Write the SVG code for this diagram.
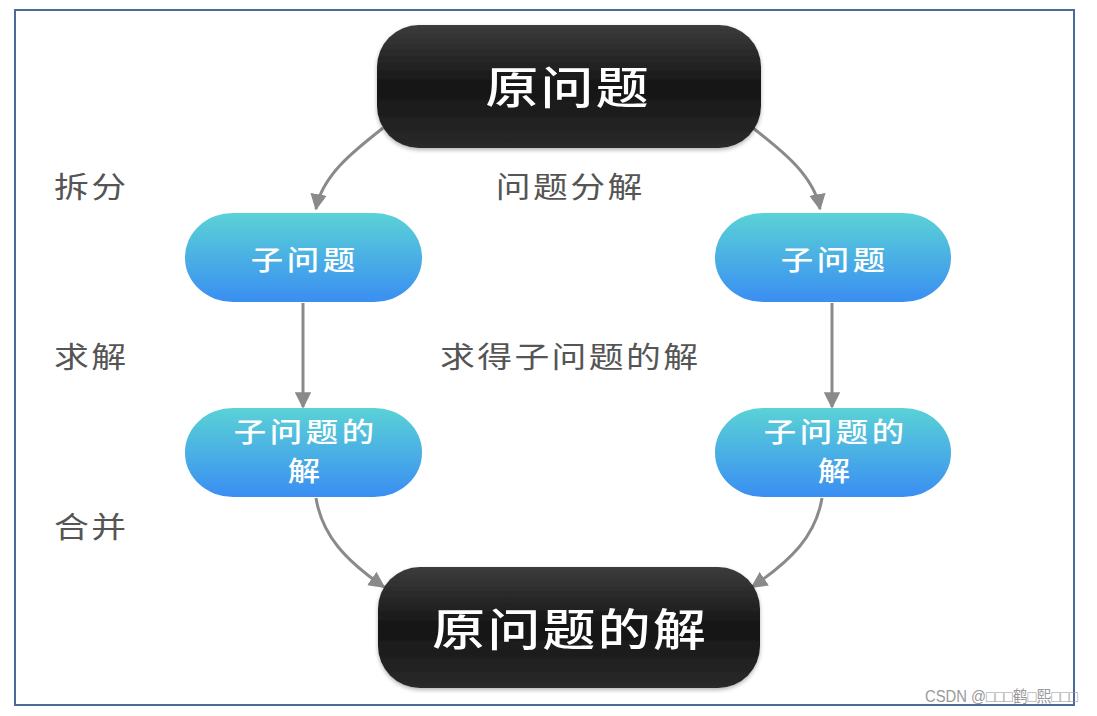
<svg xmlns="http://www.w3.org/2000/svg" width="1097" height="716" viewBox="0 0 1097 716">
<defs>
<linearGradient id="gBlack" x1="0" y1="0" x2="0" y2="1">
<stop offset="0" stop-color="#3c3c3c"/>
<stop offset="0.5" stop-color="#151515"/>
<stop offset="1" stop-color="#2a2a2a"/>
</linearGradient>
<linearGradient id="gBlue" x1="0" y1="0" x2="0" y2="1">
<stop offset="0" stop-color="#5ad2d6"/>
<stop offset="1" stop-color="#3a8ef2"/>
</linearGradient>
<marker id="arr" viewBox="0 0 10 10" refX="9" refY="5" markerWidth="5.5" markerHeight="5.5" orient="auto" markerUnits="strokeWidth">
<path d="M0,0 L10,5 L0,10 z" fill="#8a8a8a"/>
</marker>
<filter id="sh" x="-10%" y="-10%" width="120%" height="130%">
<feGaussianBlur in="SourceAlpha" stdDeviation="2"/>
<feOffset dy="2" result="b"/>
<feComponentTransfer><feFuncA type="linear" slope="0.3"/></feComponentTransfer>
<feMerge><feMergeNode/><feMergeNode in="SourceGraphic"/></feMerge>
</filter>
</defs>
<style>
.lbl{font-family:"Noto Sans CJK SC","Noto Sans",sans-serif;font-size:29px;fill:#555;letter-spacing:2px}
.big{font-family:"Noto Sans CJK SC","Noto Sans",sans-serif;font-size:44px;fill:#fff;font-weight:500;letter-spacing:2px;text-anchor:middle}
.sub{font-family:"Noto Sans CJK SC","Noto Sans",sans-serif;font-size:27px;fill:#fff;font-weight:500;letter-spacing:3px;text-anchor:middle}
.conn{fill:none;stroke:#8a8a8a;stroke-width:3;marker-end:url(#arr)}
.wm{font-family:"Liberation Sans","Noto Sans CJK SC",sans-serif;font-size:16px;fill:#999}
</style>
<rect x="0" y="0" width="1097" height="716" fill="#fff"/>
<rect x="15" y="10" width="1059" height="695" fill="#fff" stroke="#4a6a9a" stroke-width="2"/>

<g id="connectors">
<path class="conn" d="M383,128 C355,150 322,175 316,209"/>
<path class="conn" d="M753,128 C781,150 814,175 820,209"/>
<path class="conn" d="M303,303 L303,407"/>
<path class="conn" d="M832,303 L832,407"/>
<path class="conn" d="M316,498 C322,535 345,560 384,587"/>
<path class="conn" d="M822,498 C816,535 792,560 752,587"/>
</g>

<g id="labels">
<text class="lbl" transform="translate(54,198) scale(1.2,1)">拆分</text>
<text class="lbl" transform="translate(54,368) scale(1.2,1)">求解</text>
<text class="lbl" transform="translate(54,538) scale(1.2,1)">合并</text>
<text class="lbl" text-anchor="middle" transform="translate(569,198) scale(1.2,1)" x="1">问题分解</text>
<text class="lbl" text-anchor="middle" transform="translate(569,368) scale(1.2,1)" x="1">求得子问题的解</text>
</g>

<g id="node-root">
<rect x="377" y="25" width="384" height="123" rx="42" ry="42" fill="url(#gBlack)" filter="url(#sh)"/>
<text class="big" transform="translate(567,104) scale(1.2,1)" x="1">原问题</text>
</g>

<g id="node-sub-left">
<rect x="185" y="213" width="237" height="89" rx="48" ry="44" fill="url(#gBlue)"/>
<text class="sub" transform="translate(303,270) scale(1.2,1)" x="1.5">子问题</text>
</g>
<g id="node-sub-right">
<rect x="715" y="213" width="236" height="89" rx="48" ry="44" fill="url(#gBlue)"/>
<text class="sub" transform="translate(833,270) scale(1.2,1)" x="1.5">子问题</text>
</g>

<g id="node-sol-left">
<rect x="185" y="408" width="237" height="89" rx="48" ry="44" fill="url(#gBlue)"/>
<text class="sub" transform="translate(304,442) scale(1.2,1)" x="1.5">子问题的</text>
<text class="sub" transform="translate(304,481) scale(1.2,1)" x="1.5">解</text>
</g>
<g id="node-sol-right">
<rect x="715" y="408" width="236" height="89" rx="48" ry="44" fill="url(#gBlue)"/>
<text class="sub" transform="translate(834,442) scale(1.2,1)" x="1.5">子问题的</text>
<text class="sub" transform="translate(834,481) scale(1.2,1)" x="1.5">解</text>
</g>

<g id="node-result">
<rect x="378" y="567" width="382" height="121" rx="42" ry="42" fill="url(#gBlack)" filter="url(#sh)"/>
<text class="big" transform="translate(569,646) scale(1.2,1)" x="1">原问题的解</text>
</g>

<text class="wm" x="925" y="702" textLength="153" lengthAdjust="spacingAndGlyphs">CSDN @□□□鹤□熙□□□</text>
</svg>
